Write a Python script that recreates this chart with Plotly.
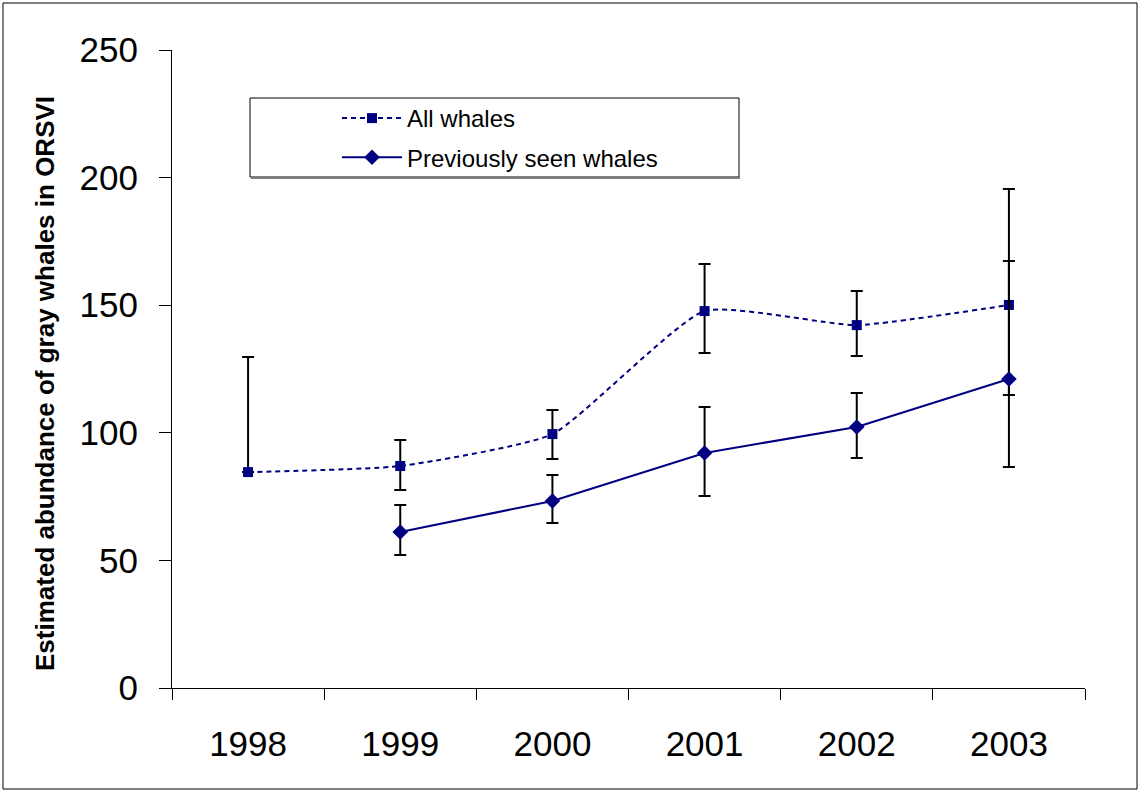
import plotly.graph_objects as go

years = ["1998", "1999", "2000", "2001", "2002", "2003"]
all_whales = [84.6, 87.0, 99.5, 147.7, 142.2, 150.1]
all_upper = [129.7, 97.2, 108.9, 166.1, 155.6, 195.5]
all_lower = [84.6, 77.6, 89.7, 131.3, 130.1, 114.8]

prev_years = ["1999", "2000", "2001", "2002", "2003"]
prev_whales = [61.1, 73.3, 92.1, 102.3, 121.1]
prev_upper = [71.7, 83.5, 110.1, 115.6, 167.3]
prev_lower = [52.1, 64.7, 75.2, 90.1, 86.6]

NAVY = "#000080"

fig = go.Figure()
fig.add_trace(go.Scatter(
    x=years, y=all_whales, name="All whales", mode="lines+markers", legendgroup="a",
    line=dict(color=NAVY, width=2, dash="5px,4px", shape="spline", smoothing=0.5),
    marker=dict(symbol="square", size=10, color=NAVY),
    error_y=dict(type="data", symmetric=False,
                 array=[u - v for u, v in zip(all_upper, all_whales)],
                 arrayminus=[v - l for v, l in zip(all_whales, all_lower)],
                 color="black", thickness=2, width=6),
))
fig.add_trace(go.Scatter(
    x=prev_years, y=prev_whales, name="Previously seen whales", mode="lines+markers",
    legendgroup="b",
    line=dict(color=NAVY, width=2),
    marker=dict(symbol="diamond", size=12, color=NAVY),
    error_y=dict(type="data", symmetric=False,
                 array=[u - v for u, v in zip(prev_upper, prev_whales)],
                 arrayminus=[v - l for v, l in zip(prev_whales, prev_lower)],
                 color="black", thickness=2, width=6),
))

L, R, T, B = 172, 54, 50, 104
W, H = 1139, 792
pw, ph = W - L - R, H - T - B

def px(x):
    return (x - L) / pw

def py(y):
    return (H - B - y) / ph

fig.update_layout(
    width=W, height=H,
    margin=dict(l=L, r=R, t=T, b=B),
    paper_bgcolor="white", plot_bgcolor="white",
    font=dict(family="Liberation Sans, Arial, sans-serif", color="black"),
    showlegend=True,
    legend=dict(x=px(337), y=py(96), xanchor="left", yanchor="top",
                bgcolor="rgba(0,0,0,0)", borderwidth=0, traceorder="grouped",
                font=dict(size=24), tracegroupgap=5, itemwidth=60),
    xaxis=dict(type="category", categoryorder="array", categoryarray=years,
               range=[-0.5, 5.5], showline=True, linecolor="black", linewidth=1,
               ticks="outside", ticklen=11, tickcolor="black", tickson="boundaries",
               tickfont=dict(size=35), ticklabelstandoff=25, showgrid=False, zeroline=False),
    yaxis=dict(range=[0, 250], dtick=50, showline=True, linecolor="black", linewidth=1,
               ticks="outside", ticklen=12, tickcolor="black",
               tickfont=dict(size=35), ticklabelstandoff=14, showgrid=False, zeroline=False),
    shapes=[
        dict(type="rect", xref="paper", yref="paper",
             x0=px(250), x1=px(739), y0=py(98), y1=py(177),
             line=dict(color="black", width=1), fillcolor="rgba(0,0,0,0)"),
        dict(type="line", xref="paper", yref="paper",
             x0=px(251), x1=px(740), y0=py(178), y1=py(178),
             line=dict(color="#808080", width=2)),
        dict(type="rect", xref="paper", yref="paper",
             x0=px(3), x1=px(1137), y0=py(3), y1=py(789),
             line=dict(color="black", width=1), fillcolor="rgba(0,0,0,0)"),
    ],
    annotations=[
        dict(text="<b>Estimated abundance of gray whales in ORSVI</b>",
             xref="paper", yref="paper", x=px(45), y=py(384),
             textangle=-90, showarrow=False, font=dict(size=26),
             xanchor="center", yanchor="middle"),
    ],
)

fig.write_html("out.html", config={"displayModeBar": False},
               post_script="document.body.style.margin='0';document.body.style.overflow='hidden';")
